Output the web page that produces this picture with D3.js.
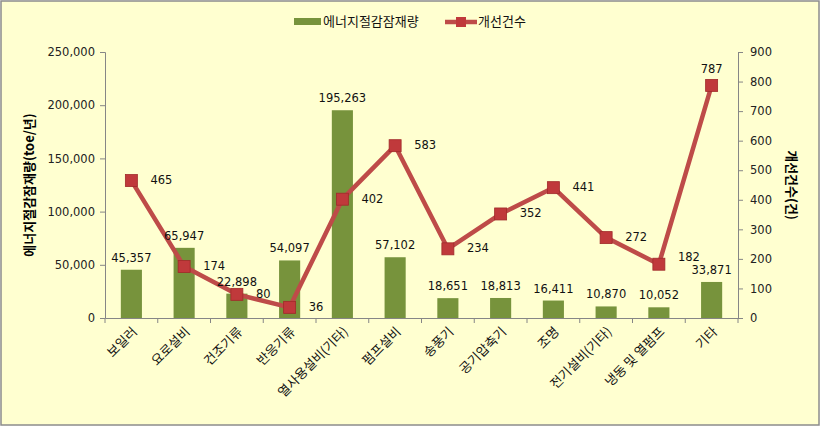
<!DOCTYPE html>
<html><head><meta charset="utf-8">
<script src="https://cdn.jsdelivr.net/npm/d3@7"></script>
<style>body{margin:0;background:#fff}svg{display:block}</style>
</head><body>
<svg id="c" width="820" height="426"></svg>
<script>
const categories = ["보일러","요로설비","건조기류","반응기류","열사용설비(기타)","펌프설비","송풍기","공기압축기","조명","전기설비(기타)","냉동 및 열펌프","기타"];
const savings = [45357, 65947, 22898, 54097, 195263, 57102, 18651, 18813, 16411, 10870, 10052, 33871];
const counts = [465, 174, 80, 36, 402, 583, 234, 352, 441, 272, 182, 787];
const leftTicks = [0, 50000, 100000, 150000, 200000, 250000];
const rightTicks = [0, 100, 200, 300, 400, 500, 600, 700, 800, 900];
const seriesNames = ["에너지절감잠재량", "개선건수"];
const axisTitles = ["에너지절감잠재량(toe/년)", "개선건수(건)"];

const W = 820, H = 426;
const m = {l: 105, r: 82, t: 52, b: 108};
const svg = d3.select("#c");
const hangul = "'Noto Sans CJK KR', 'DejaVu Sans', sans-serif";
const num = "'DejaVu Sans', Verdana, sans-serif";
const barColor = "#77933C", lineColor = "#BE4B48", markColor = "#C0393B", axisColor = "#868686";

svg.append("rect").attr("x",1).attr("y",1).attr("width",W-2).attr("height",H-2)
  .attr("fill","#FFFFD0").attr("stroke","#8c8c8c").attr("stroke-width",1.5);

const x = d3.scaleBand().domain(categories).range([m.l, W-m.r]).paddingInner(0).paddingOuter(0);
const yL = d3.scaleLinear().domain([0,250000]).range([H-m.b, m.t]);
const yR = d3.scaleLinear().domain([0,900]).range([H-m.b, m.t]);

// bars
svg.append("g").selectAll("rect").data(savings).join("rect")
  .attr("x",(d,i)=>x(categories[i]) + x.bandwidth()*0.3)
  .attr("width", x.bandwidth()*0.4)
  .attr("y", d=>yL(d)).attr("height", d=>yL(0)-yL(d))
  .attr("fill", barColor);

// axes
const fmt = d3.format(",");
const gL = svg.append("g").attr("transform",`translate(${m.l},0)`)
  .call(d3.axisLeft(yL).tickValues(leftTicks).tickFormat(fmt).tickSize(5).tickPadding(5));
const gR = svg.append("g").attr("transform",`translate(${W-m.r},0)`)
  .call(d3.axisRight(yR).tickValues(rightTicks).tickSize(5).tickPadding(7));
const gB = svg.append("g").attr("transform",`translate(0,${H-m.b})`)
  .call(d3.axisBottom(x).tickSize(0).tickFormat(""));
[gL,gR,gB].forEach(g=>{
  g.select(".domain").attr("stroke",axisColor);
  g.selectAll(".tick line").attr("stroke",axisColor);
  g.selectAll("text").attr("fill","#222").style("font-family",num).style("font-size","11.5px");
});
// category separator ticks
const seps = categories.map(c=>x(c)).concat([W-m.r]);
svg.append("g").selectAll("line").data(seps).join("line")
  .attr("x1",d=>d).attr("x2",d=>d).attr("y1",H-m.b).attr("y2",H-m.b+5).attr("stroke",axisColor);

// x labels
svg.append("g").selectAll("text").data(categories).join("text")
  .attr("transform",d=>`translate(${x(d)+x.bandwidth()/2+4},${H-m.b+12}) rotate(-45)`)
  .attr("text-anchor","end").attr("dominant-baseline","middle")
  .style("font-family",hangul).style("font-size","13px").attr("fill","#111").text(d=>d);

// line
const cx = i => x(categories[i])+x.bandwidth()/2;
svg.append("path").datum(counts)
  .attr("d", d3.line().x((d,i)=>cx(i)).y(d=>yR(d)))
  .attr("fill","none").attr("stroke",lineColor).attr("stroke-width",4.5).attr("stroke-linejoin","round");
svg.append("g").selectAll("rect").data(counts).join("rect")
  .attr("x",(d,i)=>cx(i)-6).attr("y",d=>yR(d)-6).attr("width",12).attr("height",12)
  .attr("fill",markColor).attr("stroke","#A02A2A").attr("stroke-width",0.8);

// bar labels (drawn over the line)
svg.append("g").selectAll("text").data(savings).join("text")
  .attr("x",(d,i)=>x(categories[i])+x.bandwidth()/2).attr("y",d=>yL(d)-8)
  .attr("text-anchor","middle").style("font-family",num).style("font-size","11.5px").attr("fill","#111")
  .text(d=>fmt(d));

const last = counts.length-1;
svg.append("g").selectAll("text").data(counts).join("text")
  .attr("x",(d,i)=> i===last ? cx(i) : cx(i)+19)
  .attr("y",(d,i)=> i===last ? yR(d)-16 : (i===last-1 ? yR(d)-7 : yR(d)))
  .attr("text-anchor",(d,i)=> i===last ? "middle" : "start")
  .attr("dominant-baseline","middle")
  .style("font-family",num).style("font-size","11.5px").attr("fill","#111").text(d=>d);

// axis titles
svg.append("text").attr("transform",`translate(30,${(H-m.b+m.t)/2}) rotate(-90)`)
  .attr("text-anchor","middle").attr("dominant-baseline","middle")
  .style("font-family",hangul).style("font-size","13px").style("font-weight","bold").text(axisTitles[0]);
svg.append("text").attr("transform",`translate(791,${(H-m.b+m.t)/2}) rotate(90)`)
  .attr("text-anchor","middle").attr("dominant-baseline","middle")
  .style("font-family",hangul).style("font-size","13px").style("font-weight","bold").text(axisTitles[1]);

// legend
const lg = svg.append("g");
lg.append("rect").attr("x",294).attr("y",18).attr("width",27).attr("height",7).attr("fill",barColor);
lg.append("text").attr("x",323).attr("y",22).attr("dominant-baseline","middle")
  .style("font-family",hangul).style("font-size","13px").attr("fill","#111").text(seriesNames[0]);
lg.append("line").attr("x1",445).attr("x2",477).attr("y1",22).attr("y2",22).attr("stroke",lineColor).attr("stroke-width",4.5);
lg.append("rect").attr("x",456).attr("y",17).attr("width",10).attr("height",10).attr("fill",markColor);
lg.append("text").attr("x",478).attr("y",22).attr("dominant-baseline","middle")
  .style("font-family",hangul).style("font-size","13px").attr("fill","#111").text(seriesNames[1]);
</script>
</body></html>
